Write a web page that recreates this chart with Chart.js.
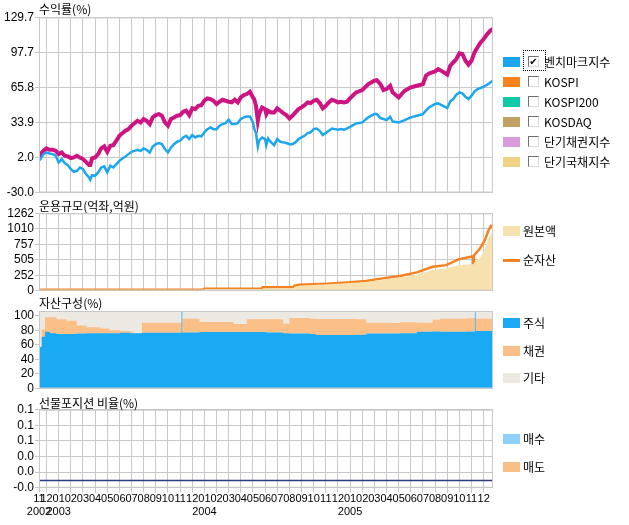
<!DOCTYPE html>
<html>
<head>
<meta charset="utf-8">
<script src="https://cdn.jsdelivr.net/npm/chart.js@4.4.1/dist/chart.umd.min.js"></script>
<style>
body { margin: 0; background: #fff; width: 629px; height: 525px; position: relative; overflow: hidden;
       font-family: "Noto Sans CJK KR", "DejaVu Sans", sans-serif; color: #000; }
canvas { position: absolute; left: 0; }
.ttl { position: absolute; left: 39px; font-size: 12px; line-height: 14px; white-space: nowrap; }
.sw { position: absolute; left: 503px; width: 17px; height: 10px; }
.ln { position: absolute; left: 503px; width: 17px; height: 3px; }
.cb { position: absolute; left: 528px; width: 9px; height: 9px; background: #fff;
      border: 1px solid; border-color: #707070 #d8d8d8 #d8d8d8 #707070;
      font-size: 10px; line-height: 9px; text-align: center; font-family: "DejaVu Sans"; }
.lt { position: absolute; left: 544px; font-size: 12px; line-height: 14px; white-space: nowrap; }
.lt2 { position: absolute; left: 523px; font-size: 12px; line-height: 14px; white-space: nowrap; }
.focus { position: absolute; left: 523px; top: 50px; width: 21px; height: 19px; border: 1px dotted #000; }
</style>
</head>
<body>
<canvas id="retChart" width="629" height="205" style="top:0px"></canvas>
<canvas id="aumChart" width="629" height="105" style="top:198px"></canvas>
<canvas id="mixChart" width="629" height="105" style="top:296px"></canvas>
<canvas id="futChart" width="629" height="131" style="top:394px"></canvas>

<div class="ttl" style="top:2px">수익률(%)</div>
<div class="ttl" style="top:199px">운용규모(억좌,억원)</div>
<div class="ttl" style="top:296px">자산구성(%)</div>
<div class="ttl" style="top:396px">선물포지션 비율(%)</div>

<!-- legend: returns -->
<div class="sw" style="top:57px;background:#1aa6f0"></div><div class="cb" style="top:56px">✔</div><div class="lt" style="top:55px">벤치마크지수</div>
<div class="focus"></div>
<div class="sw" style="top:77px;background:#f7821b"></div><div class="cb" style="top:76px"></div><div class="lt" style="top:75px">KOSPI</div>
<div class="sw" style="top:97px;background:#10c9a9"></div><div class="cb" style="top:96px"></div><div class="lt" style="top:95px">KOSPI200</div>
<div class="sw" style="top:117px;background:#c1a264"></div><div class="cb" style="top:116px"></div><div class="lt" style="top:115px">KOSDAQ</div>
<div class="sw" style="top:137px;background:#d99bdc"></div><div class="cb" style="top:136px"></div><div class="lt" style="top:135px">단기채권지수</div>
<div class="sw" style="top:157px;background:#efd384"></div><div class="cb" style="top:156px"></div><div class="lt" style="top:155px">단기국채지수</div>

<!-- legend: AUM -->
<div class="sw" style="top:226px;background:#f7e2af"></div><div class="lt2" style="top:224px">원본액</div>
<div class="ln" style="top:259px;background:#f58220"></div><div class="lt2" style="top:253px">순자산</div>

<!-- legend: asset mix -->
<div class="sw" style="top:318px;background:#1aa9f3"></div><div class="lt2" style="top:316px">주식</div>
<div class="sw" style="top:346px;background:#fbbf88"></div><div class="lt2" style="top:344px">채권</div>
<div class="sw" style="top:373px;background:#ece9e2"></div><div class="lt2" style="top:371px">기타</div>

<!-- legend: futures -->
<div class="sw" style="top:434px;background:#8fd0fa"></div><div class="lt2" style="top:432px">매수</div>
<div class="sw" style="top:462px;background:#f8bf86"></div><div class="lt2" style="top:460px">매도</div>

<script>
// x values are months since 2002-11-01 (Jan 2003 = 2, Jan 2004 = 14, Jan 2005 = 26)
const tMin = 0.38;
const tMax = 37.77;

const monthTicks = [0.38, 1, 2, 3, 4, 5, 6, 7, 8, 9, 10, 11, 12, 13, 14, 15, 16, 17, 18, 19, 20,
  21, 22, 23, 24, 25, 26, 27, 28, 29, 30, 31, 32, 33, 34, 35, 36, 37];
const monthLabels = [['11', '2002'], '12',
  ['01', '2003'], '02', '03', '04', '05', '06', '07', '08', '09', '10', '11', '12',
  ['01', '2004'], '02', '03', '04', '05', '06', '07', '08', '09', '10', '11', '12',
  ['01', '2005'], '02', '03', '04', '05', '06', '07', '08', '09', '10', '11', '12'];

// 1. returns (%)
const retT = [0.38, 0.5, 0.75, 1, 1.25, 1.5, 1.75, 2, 2.25, 2.5, 2.75, 3, 3.25, 3.5, 3.75, 4, 4.25, 4.5, 4.6, 4.75,
  5, 5.25, 5.5, 5.75, 6, 6.25, 6.5, 6.75, 7, 7.25, 7.5, 7.75, 8, 8.25, 8.5, 8.75, 9, 9.25, 9.5, 9.75,
  10, 10.25, 10.5, 10.75, 11, 11.25, 11.5, 11.75, 12, 12.25, 12.5, 12.75, 13, 13.25, 13.5, 13.75,
  14, 14.25, 14.5, 14.75, 15, 15.25, 15.5, 15.75, 16, 16.25, 16.5, 16.75, 17, 17.25, 17.5, 17.75,
  18, 18.1, 18.25, 18.4, 18.5, 18.75, 19, 19.1, 19.25, 19.5, 19.75, 20, 20.25, 20.5, 20.75,
  21, 21.25, 21.5, 21.75, 22, 22.25, 22.5, 22.75, 23, 23.25, 23.5, 23.75, 24, 24.25, 24.5, 24.75,
  25, 25.25, 25.5, 25.75, 26, 26.5, 27, 27.5, 28, 28.2, 28.5, 28.75, 29, 29.3, 29.5,
  30, 30.25, 30.5, 31, 31.5, 32, 32.25, 32.5, 33, 33.25, 33.5, 34, 34.25, 34.5, 34.75,
  35, 35.25, 35.5, 35.75, 36, 36.25, 36.5, 36.75, 37, 37.3, 37.55, 37.77];
const fundReturn = [1.5, 5.0, 8.0, 10.2, 9.0, 9.0, 8.0, 5.0, 6.5, 3.5, 2.9, 1.4, 2.0, 3.5, 2.0, 0.5, -2.0, -5.0, -5.0, 1.1,
  2.0, 5.0, 10.2, 12.0, 7.1, 12.6, 13.2, 17.2, 21.7, 24.2, 26.3, 27.8, 30.9, 33.3, 35.4, 33.9, 37.0, 35.4, 32.4, 38.5,
  40.6, 41.5, 40.0, 33.9, 30.9, 37.0, 38.5, 40.0, 40.6, 43.6, 44.6, 40.6, 46.7, 46.1, 49.1, 49.7,
  53.7, 55.8, 55.2, 53.7, 50.6, 52.8, 54.6, 53.7, 52.8, 52.2, 54.6, 52.2, 56.7, 58.9, 59.8, 61.9,
  56.7, 55.2, 49.1, 35.4, 41.5, 47.6, 46.1, 41.5, 44.6, 43.0, 43.0, 46.7, 44.6, 42.4, 40.6,
  37.6, 40.0, 43.0, 46.1, 47.6, 49.7, 52.2, 51.6, 53.7, 54.6, 51.6, 46.7, 49.1, 52.2, 54.6, 53.7,
  52.2, 52.8, 52.2, 52.8, 56.0, 61.3, 63.4, 68.9, 72.0, 72.5, 68.9, 63.4, 64.3, 67.4, 61.3,
  56.7, 59.8, 62.8, 65.9, 67.4, 68.9, 76.5, 78.6, 80.5, 82.6, 81.1, 77.4, 85.6, 88.7, 91.7,
  96.9, 96.3, 90.2, 86.5, 90.2, 97.8, 102.4, 106.9, 110.0, 114.5, 117.6, 119.1];
const benchReturn = [-1.1, 0.5, 5.0, 6.5, 5.6, 5.0, 3.5, -2.6, 0.5, -3.2, -5.0, -8.7, -11.1, -10.2, -7.2, -8.7, -13.2, -16.3, -18.4, -14.2,
  -14.8, -11.7, -7.2, -6.2, -11.7, -5.6, -7.2, -4.1, -1.1, 1.1, 2.9, 5.0, 7.1, 8.0, 9.0, 8.0, 10.2, 9.0, 6.5, 12.0,
  14.1, 15.1, 14.1, 9.6, 6.5, 11.1, 14.1, 16.3, 17.2, 20.2, 21.7, 18.7, 22.4, 20.2, 21.7, 21.1,
  24.8, 27.8, 29.4, 27.8, 27.8, 30.9, 32.4, 33.3, 36.3, 32.4, 32.4, 33.3, 37.0, 38.5, 39.4, 39.4,
  33.9, 28.4, 24.2, 12.0, 17.2, 20.2, 18.7, 13.2, 19.3, 15.7, 13.2, 18.7, 16.3, 15.7, 15.1,
  14.1, 14.1, 15.7, 18.7, 20.2, 21.7, 24.2, 24.8, 27.8, 28.4, 26.3, 22.4, 24.2, 26.3, 28.4, 27.8,
  27.2, 27.8, 27.2, 28.4, 29.8, 33.0, 33.9, 38.5, 41.5, 41.5, 37.9, 37.0, 36.0, 39.1, 34.8,
  33.9, 34.8, 36.0, 38.5, 40.0, 41.5, 44.6, 47.6, 50.7, 51.3, 50.0, 47.0, 53.1, 55.2, 59.2,
  61.3, 60.4, 57.3, 55.2, 58.3, 62.2, 64.3, 65.3, 66.5, 68.3, 70.4, 72.0];
const retTicks = [-30, 2, 33.9, 65.8, 97.7, 129.7];
const retTickLabels = ['-30.0', '2.0', '33.9', '65.8', '97.7', '129.7'];

// 2. fund size
const aumT = [0.38, 13.95, 14, 18.75, 18.8, 21.35, 21.4, 21.8, 24.1, 26, 27.3, 28.7, 30.1, 31.5, 32.8, 33.9,
  35, 36.1, 36.15, 36.2, 36.7, 37.1, 37.4, 37.6, 37.77];
const netAsset = [16, 16, 32, 32, 55, 55, 81, 97, 114, 136, 157, 201, 239, 299, 390, 417,
  515, 563, 445, 575, 688, 823, 985, 1055, 1039];
const principal = [14, 14, 28, 28, 40, 40, 62, 80, 104, 125, 140, 180, 215, 262, 336, 364,
  417, 433, 433, 450, 531, 688, 860, 915, 948];
const aumTicks = [0, 252, 505, 757, 1010, 1262];

// 3. asset mix (%)
const mixT = [0.38, 0.6, 0.87, 1.28, 1.83, 2.66, 3.48, 4.3, 5.4, 6.2, 7.05, 7.87, 8.14, 8.86, 10.3, 12.0,
  12.12, 12.18, 13.6, 15.0, 16.4, 17.5, 19.1, 20.5, 21.0, 22.7, 23.2, 24.6, 26.5, 27.35, 29.5,
  30.1, 31.5, 32.8, 33.4, 35.6, 36.28, 36.34, 37.72];
const stockPct = [57, 71, 78, 76, 75, 75, 75.5, 76, 76, 76, 76.5, 76, 76, 76.5, 76.5, 76.5,
  105, 77, 77.5, 77.5, 77.5, 77.5, 77, 76, 75.5, 75, 73.5, 73.5, 74, 75.5, 75.5,
  76, 78, 78.5, 78, 78.5, 105, 79, 79];
const bondPct = [0, 10, 20, 22, 20, 18, 11, 8, 6.5, 4, 2.5, 2, 0, 14, 14, 13.5,
  0, 19, 14, 14, 11, 17.5, 18, 13, 21.5, 21, 22, 22, 21, 15, 14.5,
  15, 12.5, 16, 18, 18, 0, 17, 16];
const otherPct = [43, 19, 2, 2, 5, 7, 13.5, 16, 17.5, 20, 21, 22, 24, 9.5, 9.5, 10,
  0, 4, 8.5, 8.5, 11.5, 5, 5, 11, 3, 4, 4.5, 4.5, 5, 9.5, 10,
  9, 9.5, 5.5, 4, 3.5, 0, 4, 5];
const mixTicks = [0, 20, 40, 60, 80, 100];

// 4. futures position ratio (%)
const futT = [0.38, 37.77];
const futPos = [0, 0];
const futTicks = [-0.0138, 0.0162, 0.0462, 0.0762, 0.1062, 0.1362];
const futTickLabels = ['-0.0', '0.0', '0.0', '0.1', '0.1', '0.1'];

Chart.defaults.font.family = '"Liberation Sans", Arial, sans-serif';
Chart.defaults.font.size = 12;
Chart.defaults.color = '#000';

const gridColor = '#c8c8c8';
const pts = (xs, ys) => xs.map((x, i) => ({ x: x, y: ys[i] }));

const framePlugin = {
    id: 'frame',
    beforeDatasetsDraw(chart, args, opts) {
        if (opts.fill) {
            const a = chart.chartArea;
            chart.ctx.save();
            chart.ctx.fillStyle = opts.fill;
            chart.ctx.fillRect(a.left, a.top, a.right - a.left, a.bottom - a.top);
            chart.ctx.restore();
        }
    },
    afterDatasetsDraw(chart) {
        const a = chart.chartArea, ctx = chart.ctx;
        ctx.save();
        ctx.strokeStyle = gridColor;
        ctx.lineWidth = 1;
        ctx.strokeRect(a.left + 0.5, a.top + 0.5, a.right - a.left - 1, a.bottom - a.top - 1);
        ctx.restore();
    }
};

function xAxis(showLabels) {
    return {
        type: 'linear', min: tMin, max: tMax,
        afterBuildTicks: s => { s.ticks = monthTicks.map(v => ({ value: v })); },
        grid: { color: gridColor, drawTicks: showLabels, tickLength: 5 },
        border: { display: false },
        ticks: {
            display: showLabels, autoSkip: false, maxRotation: 0, minRotation: 0, padding: 0,
            font: { size: 11, lineHeight: 1.15 },
            callback: (v, i) => monthLabels[i]
        },
        afterFit: s => { s.height = showLabels ? 35 : 0; }
    };
}

function yAxis(min, max, tickVals, tickText) {
    return {
        type: 'linear', min: min, max: max,
        afterBuildTicks: s => { s.ticks = tickVals.map(v => ({ value: v })); },
        grid: { color: gridColor, tickLength: 4 },
        border: { display: false },
        ticks: { padding: 1, autoSkip: false, callback: (v, i) => tickText[i] },
        afterFit: s => { s.width = 39; }
    };
}

function baseOptions(padTop, padBottom, xs, ys, frameFill) {
    return {
        responsive: false,
        animation: false,
        devicePixelRatio: 1,
        layout: { padding: { left: 0, right: 136, top: padTop, bottom: padBottom } },
        plugins: { legend: { display: false }, tooltip: { enabled: false }, frame: { fill: frameFill } },
        elements: { point: { radius: 0 } },
        scales: { x: xs, y: ys }
    };
}

new Chart(document.getElementById('retChart'), {
    type: 'line',
    data: {
        datasets: [
            { label: '벤치마크지수', data: pts(retT, benchReturn), borderColor: '#1ca6ee', borderWidth: 2.5, fill: false },
            { label: '수익률', data: pts(retT, fundReturn), borderColor: '#cc1482', borderWidth: 4, fill: false }
        ]
    },
    options: baseOptions(17.4, 12.5, xAxis(false),
        yAxis(-30, 129.7, retTicks, retTickLabels), null),
    plugins: [framePlugin]
});

new Chart(document.getElementById('aumChart'), {
    type: 'line',
    data: {
        datasets: [
            { label: '원본액', data: pts(aumT, principal), borderWidth: 0, borderColor: 'rgba(0,0,0,0)',
              backgroundColor: '#f7e2af', fill: 'origin' },
            { label: '순자산', data: pts(aumT, netAsset), borderColor: '#f58220', borderWidth: 2.5, fill: false }
        ]
    },
    options: baseOptions(15.3, 12.3, xAxis(false),
        yAxis(0, 1262, aumTicks, aumTicks.map(String)), null),
    plugins: [framePlugin]
});

const mixY = yAxis(0, 106.5, mixTicks, mixTicks.map(String));
mixY.stacked = true;
new Chart(document.getElementById('mixChart'), {
    type: 'line',
    data: {
        datasets: [
            { label: '주식', data: pts(mixT, stockPct), stepped: true, borderWidth: 0, borderColor: 'rgba(0,0,0,0)',
              backgroundColor: '#1aa9f3', fill: 'origin' },
            { label: '채권', data: pts(mixT, bondPct), stepped: true, borderWidth: 0, borderColor: 'rgba(0,0,0,0)',
              backgroundColor: '#fbbf88', fill: '-1' },
            { label: '기타', data: pts(mixT, otherPct), stepped: true, borderWidth: 0, borderColor: 'rgba(0,0,0,0)',
              backgroundColor: '#ece9e2', fill: '-1' }
        ]
    },
    options: baseOptions(15, 12.5, xAxis(false), mixY, '#ece9e2'),
    plugins: [framePlugin]
});

new Chart(document.getElementById('futChart'), {
    type: 'line',
    data: {
        datasets: [
            { label: '선물포지션', data: pts(futT, futPos), borderColor: '#2a3b7f', borderWidth: 1.5, fill: false }
        ]
    },
    options: baseOptions(15.7, 2.3, xAxis(true),
        yAxis(-0.0138, 0.1362, futTicks, futTickLabels), null),
    plugins: [framePlugin]
});
</script>
</body>
</html>
